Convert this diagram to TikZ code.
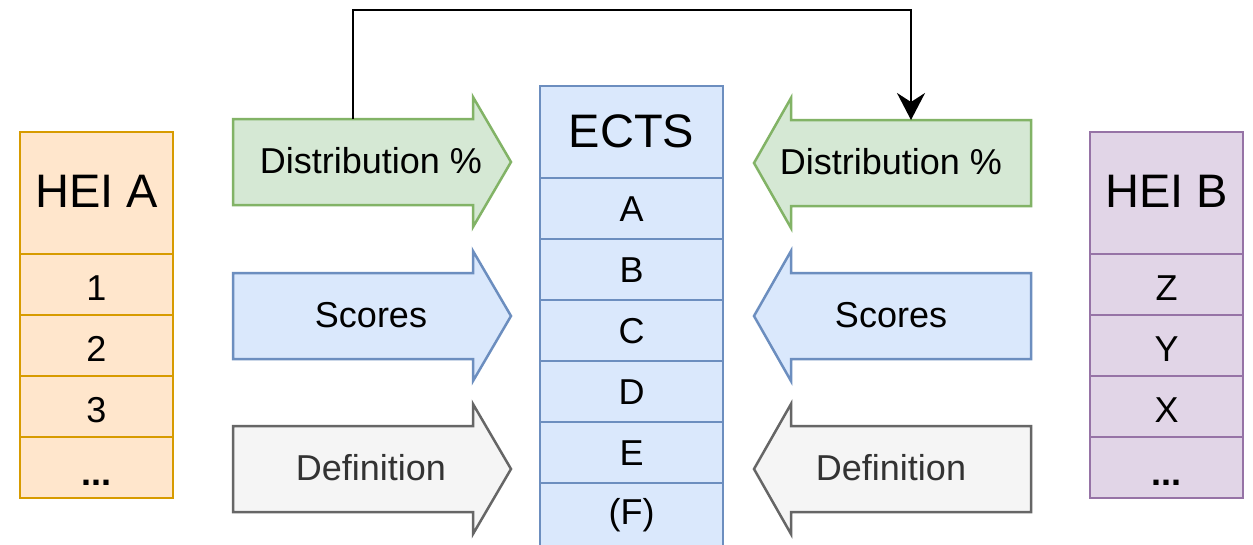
\documentclass[tikz,border=0pt]{standalone}
\usepackage{fontspec}
\setmainfont{Liberation Sans}
\usetikzlibrary{arrows.meta}

\definecolor{orangefill}{HTML}{FFE6CC}
\definecolor{orangeline}{HTML}{D79B00}
\definecolor{purplefill}{HTML}{E1D5E7}
\definecolor{purpleline}{HTML}{9673A6}
\definecolor{bluefill}{HTML}{DAE8FC}
\definecolor{blueline}{HTML}{6C8EBF}
\definecolor{greenfill}{HTML}{D5E8D4}
\definecolor{greenline}{HTML}{82B366}
\definecolor{grayfill}{HTML}{F5F5F5}
\definecolor{grayline}{HTML}{666666}
\definecolor{graytext}{HTML}{333333}

% Block arrow pointing right: #1 left end, #2 centre line, #3 style
\newcommand{\rightblock}[3]{%
  \draw[#3] (#1,#2-43) -- (#1+240,#2-43) -- (#1+240,#2-65) -- (#1+278,#2)
    -- (#1+240,#2+65) -- (#1+240,#2+43) -- (#1,#2+43) -- cycle;}
% Block arrow pointing left: #1 tip, #2 centre line, #3 style
\newcommand{\leftblock}[3]{%
  \draw[#3] (#1+277,#2-43) -- (#1+37,#2-43) -- (#1+37,#2-65) -- (#1,#2)
    -- (#1+37,#2+65) -- (#1+37,#2+43) -- (#1+277,#2+43) -- cycle;}

\tikzset{
  x=1pt, y=-1pt,
  edge/.style={line width=2.5pt, line join=miter},
  greenarrow/.style={edge, draw=greenline, fill=greenfill},
  bluearrow/.style={edge, draw=blueline, fill=bluefill},
  grayarrow/.style={edge, draw=grayline, fill=grayfill},
  headtext/.style={font=\fontsize{47}{50}\selectfont, text=black, inner sep=0pt},
  celltext/.style={font=\fontsize{36}{40}\selectfont, text=black, inner sep=0pt},
  dotstext/.style={celltext, anchor=base, font=\fontsize{36}{40}\selectfont\bfseries},
  arrowtext/.style={font=\fontsize{36}{40}\selectfont, text=black, inner sep=0pt},
}

\begin{document}
\begin{tikzpicture}
\useasboundingbox[fill=white] (0,0) rectangle (1253,544);

% ---- HEI A table ----
\begin{scope}[edge, draw=orangeline]
  \filldraw[fill=orangefill] (20,132) rectangle (173,254);
  \filldraw[fill=orangefill] (20,254) rectangle (173,315);
  \filldraw[fill=orangefill] (20,315) rectangle (173,376);
  \filldraw[fill=orangefill] (20,376) rectangle (173,437);
  \filldraw[fill=orangefill] (20,437) rectangle (173,498);
\end{scope}
\node[headtext] (heia) at (96.5,191) {HEI A};
\node[celltext] (a1) at (96.5,288) {1};
\node[celltext] (a2) at (96.5,349) {2};
\node[celltext] (a3) at (96.5,410) {3};
\node[dotstext] (a4) at (96.5,485) {...};

% ---- HEI B table ----
\begin{scope}[edge, draw=purpleline]
  \filldraw[fill=purplefill] (1090,132) rectangle (1243,254);
  \filldraw[fill=purplefill] (1090,254) rectangle (1243,315);
  \filldraw[fill=purplefill] (1090,315) rectangle (1243,376);
  \filldraw[fill=purplefill] (1090,376) rectangle (1243,437);
  \filldraw[fill=purplefill] (1090,437) rectangle (1243,498);
\end{scope}
\node[headtext] (heib) at (1166.5,191) {HEI B};
\node[celltext] (b1) at (1166.5,288) {Z};
\node[celltext] (b2) at (1166.5,349) {Y};
\node[celltext] (b3) at (1166.5,410) {X};
\node[dotstext] (b4) at (1166.5,485) {...};

% ---- ECTS table ----
\begin{scope}[edge, draw=blueline]
  \filldraw[fill=bluefill] (540,86) rectangle (723,178);
  \filldraw[fill=bluefill] (540,178) rectangle (723,239);
  \filldraw[fill=bluefill] (540,239) rectangle (723,300);
  \filldraw[fill=bluefill] (540,300) rectangle (723,361);
  \filldraw[fill=bluefill] (540,361) rectangle (723,422);
  \filldraw[fill=bluefill] (540,422) rectangle (723,483);
  \filldraw[fill=bluefill] (540,483) rectangle (723,547);
\end{scope}
\node[headtext] (ects) at (631.5,131) {ECTS};
\node[celltext] (ea) at (631.5,209) {A};
\node[celltext] (eb) at (631.5,270) {B};
\node[celltext] (ec) at (631.5,331) {C};
\node[celltext] (ed) at (631.5,392) {D};
\node[celltext] (ee) at (631.5,453) {E};
\node[celltext] (ef) at (631.5,515) {(F)};

% ---- block arrows, left side ----
\rightblock{233}{162}{greenarrow}
\rightblock{233}{316}{bluearrow}
\rightblock{233}{469}{grayarrow}
\node[arrowtext] (ldist) at (371,161) {Distribution \%};
\node[arrowtext] (lscore) at (371,315) {Scores};
\node[arrowtext, text=graytext] (ldef) at (371,468) {Definition};

% ---- block arrows, right side ----
\leftblock{754}{163}{greenarrow}
\leftblock{754}{316}{bluearrow}
\leftblock{754}{469}{grayarrow}
\node[arrowtext] (rdist) at (891,162) {Distribution \%};
\node[arrowtext] (rscore) at (891,315) {Scores};
\node[arrowtext, text=graytext] (rdef) at (891,468) {Definition};

% ---- connector between the two distribution arrows ----
\coordinate (dstart) at (353,119);
\coordinate (dend) at (911,120);
\coordinate (dtop) at (630,10);
\draw[line width=2.5pt, -{Stealth[length=27pt, width=28pt, inset=9pt]}]
  (dstart) |- (dtop) -| (dend);
\end{tikzpicture}
\end{document}
